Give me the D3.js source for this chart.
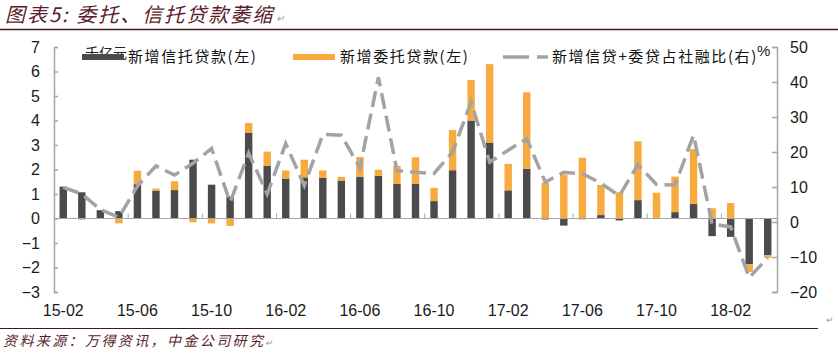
<!DOCTYPE html>
<html>
<head>
<meta charset="utf-8">
<script src="https://cdn.jsdelivr.net/npm/d3@7"></script>
<style>
  body { margin: 0; background: #fff; }
  svg { display: block; }
</style>
</head>
<body>
<script>
// canvas + plot area
const W = 838, H = 353;
const plot = { left: 54, right: 777, top: 47, bottom: 292 };

// data
const months = ["15-02","15-03","15-04","15-05","15-06","15-07","15-08","15-09","15-10","15-11",
  "15-12","16-01","16-02","16-03","16-04","16-05","16-06","16-07","16-08","16-09",
  "16-10","16-11","16-12","17-01","17-02","17-03","17-04","17-05","17-06","17-07",
  "17-08","17-09","17-10","17-11","17-12","18-01","18-02","18-03","18-04"];
const trustLoans = [1.30,1.07,0.34,0.30,1.40,1.14,1.16,2.40,1.38,0.89,
  3.49,2.15,1.63,1.68,1.66,1.55,1.71,1.75,1.41,1.41,
  0.71,1.97,4.00,3.10,1.15,2.03,-0.04,-0.29,-0.03,0.14,
  -0.08,0.75,0.00,0.26,0.59,-0.72,-0.75,-1.87,-1.50];
const entrustedLoans = [0.00,-0.05,0.00,-0.20,0.55,0.08,0.36,-0.15,-0.20,-0.30,
  0.41,0.58,0.33,0.72,0.30,0.15,0.80,0.24,0.74,1.09,
  0.54,1.64,1.65,3.20,1.08,3.12,1.46,1.79,2.48,1.23,
  1.07,2.40,1.05,1.45,2.24,0.42,0.63,-0.31,-0.10];
const shareOfTSF = [9.9,8.0,3.6,1.3,10.3,16.0,13.4,16.8,21.0,5.6,
  19.7,8.0,22.4,10.4,25.0,24.8,15.5,41.3,14.7,14.2,
  13.9,20.0,34.3,17.1,20.5,23.8,11.4,14.2,13.8,11.1,
  7.5,16.4,10.7,10.6,24.8,-0.6,-1.4,-15.9,-10.2];
const leftTicks = [-3,-2,-1,0,1,2,3,4,5,6,7];
const rightTicks = [-20,-10,0,10,20,30,40,50];
const labelMonths = ["15-02","15-06","15-10","16-02","16-06","16-10","17-02","17-06","17-10","18-02"];
const seriesNames = ["新增信托贷款(左)", "新增委托贷款(左)", "新增信贷+委贷占社融比(右)"];

const darkColor = "#4b4b4d";
const orangeColor = "#f7aa3e";
const lineColor = "#a3a3a3";
const axisColor = "#a6a6a6";
const titleColor = "#5b1d2b";
const cjk = "'Noto Sans CJK SC', sans-serif";
const latin = "'Liberation Sans', Arial, sans-serif";

const svg = d3.select("body").append("svg")
  .attr("width", W)
  .attr("height", H);

// title + rules
svg.append("text")
  .attr("x", 5).attr("y", 22)
  .attr("font-family", cjk)
  .attr("font-size", 20)
  .attr("font-style", "italic")
  .attr("letter-spacing", 2)
  .attr("fill", titleColor)
  .text("图表5:  委托、信托贷款萎缩")
  .append("tspan")
  .attr("font-size", 10).attr("fill", "#999").attr("dx", 2)
  .text("↵");

svg.append("line")
  .attr("x1", 0).attr("x2", W).attr("y1", 29.5).attr("y2", 29.5)
  .attr("stroke", "#3b1a22").attr("stroke-width", 1.5);

svg.append("line")
  .attr("x1", 0).attr("x2", 818).attr("y1", 328.5).attr("y2", 328.5)
  .attr("stroke", "#3b1a22").attr("stroke-width", 1.2);

svg.append("text")
  .attr("x", 826).attr("y", 323)
  .attr("font-size", 9).attr("fill", "#999")
  .text("↵");

svg.append("text")
  .attr("x", 3).attr("y", 346)
  .attr("font-family", cjk)
  .attr("font-size", 14)
  .attr("font-style", "italic")
  .attr("letter-spacing", 2.4)
  .attr("fill", titleColor)
  .text("资料来源：万得资讯，中金公司研究")
  .append("tspan")
  .attr("font-size", 9).attr("fill", "#999")
  .text("↵");

// scales
const x = d3.scaleBand()
  .domain(months)
  .range([plot.left, plot.right])
  .paddingInner(0.6)
  .paddingOuter(0.3);

const yL = d3.scaleLinear().domain([-3, 7]).range([plot.bottom, plot.top]);
const yR = d3.scaleLinear().domain([-20, 50]).range([plot.bottom, plot.top]);

// stacked bars (negatives stack downward)
const rows = months.map((m, i) => ({ month: m, trust: trustLoans[i], entrusted: entrustedLoans[i] }));
const stacked = d3.stack()
  .keys(["trust", "entrusted"])
  .offset(d3.stackOffsetDiverging)(rows);
const barColors = { trust: darkColor, entrusted: orangeColor };

svg.append("g").selectAll("g")
  .data(stacked)
  .enter()
  .append("g")
  .attr("fill", d => barColors[d.key])
  .selectAll("rect")
  .data(d => d)
  .enter()
  .append("rect")
  .attr("x", d => x(d.data.month))
  .attr("width", x.bandwidth())
  .attr("y", d => yL(Math.max(d[0], d[1])))
  .attr("height", d => Math.abs(yL(d[0]) - yL(d[1])));

// zero line + small category ticks
svg.append("line")
  .attr("x1", plot.left).attr("x2", plot.right)
  .attr("y1", yL(0)).attr("y2", yL(0))
  .attr("stroke", axisColor).attr("stroke-width", 1);

const gap = x.step() * x.paddingInner() / 2;
svg.append("g").selectAll("line")
  .data(labelMonths.slice(1))
  .enter()
  .append("line")
  .attr("x1", d => x(d) - gap).attr("x2", d => x(d) - gap)
  .attr("y1", yL(0)).attr("y2", yL(0) - 5)
  .attr("stroke", axisColor);

// dashed ratio line on right axis
const line = d3.line()
  .x((d, i) => x(months[i]) + x.bandwidth() / 2)
  .y(d => yR(d));

svg.append("path")
  .datum(shareOfTSF)
  .attr("d", line)
  .attr("fill", "none")
  .attr("stroke", lineColor)
  .attr("stroke-width", 3.5)
  .attr("stroke-dasharray", "16,7");

// axes
const leftAxis = svg.append("g")
  .attr("transform", "translate(" + plot.left + ",0)")
  .call(d3.axisLeft(yL).tickValues(leftTicks).tickSize(-4).tickPadding(14).tickFormat(d3.format("d")));

const rightAxis = svg.append("g")
  .attr("transform", "translate(" + plot.right + ",0)")
  .call(d3.axisRight(yR).tickValues(rightTicks).tickSize(-5).tickPadding(13).tickFormat(d3.format("d")));

const bottomAxis = svg.append("g")
  .attr("transform", "translate(0," + plot.bottom + ")")
  .call(d3.axisBottom(x).tickValues(labelMonths).tickSize(0).tickPadding(13));
bottomAxis.select(".domain").remove();

[leftAxis, rightAxis, bottomAxis].forEach(g => {
  g.selectAll(".domain").attr("stroke", axisColor).attr("stroke-width", 1.5);
  g.selectAll(".tick line").attr("stroke", axisColor).attr("stroke-width", 1.5);
  g.selectAll("text")
    .attr("font-family", latin)
    .attr("font-size", 16)
    .attr("fill", "#1a1a1a");
});

// legend
const legendY = 57;
svg.append("text")
  .attr("x", 85).attr("y", legendY + 1)
  .attr("font-family", cjk).attr("font-size", 14)
  .attr("fill", "#222")
  .text("千亿元");

svg.append("line")
  .attr("x1", 82).attr("x2", 124)
  .attr("y1", legendY).attr("y2", legendY)
  .attr("stroke", darkColor).attr("stroke-width", 6);

svg.append("line")
  .attr("x1", 293).attr("x2", 335)
  .attr("y1", legendY).attr("y2", legendY)
  .attr("stroke", orangeColor).attr("stroke-width", 6);

svg.append("line")
  .attr("x1", 503).attr("x2", 548)
  .attr("y1", legendY).attr("y2", legendY)
  .attr("stroke", lineColor).attr("stroke-width", 3.5)
  .attr("stroke-dasharray", "26,8");

svg.selectAll(".legend-text")
  .data(seriesNames)
  .enter()
  .append("text")
  .attr("class", "legend-text")
  .attr("x", (d, i) => [128, 340, 552][i])
  .attr("y", legendY + 5)
  .attr("font-family", cjk)
  .attr("font-size", 15)
  .attr("letter-spacing", 1.6)
  .attr("fill", "#111")
  .text(d => d);

svg.append("text")
  .attr("x", 757).attr("y", legendY - 1)
  .attr("font-family", latin).attr("font-size", 15)
  .attr("fill", "#222")
  .text("%");
</script>
</body>
</html>
